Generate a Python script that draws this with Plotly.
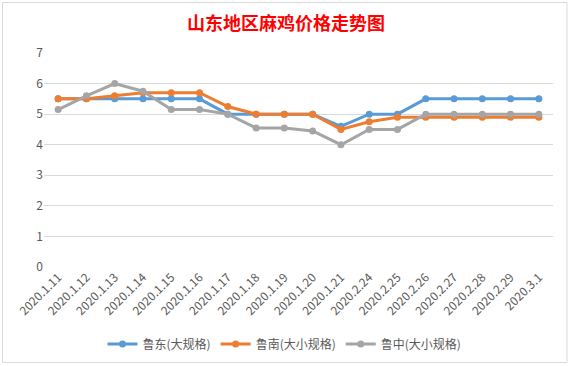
import plotly.graph_objects as go

categories = ["2020.1.11", "2020.1.12", "2020.1.13", "2020.1.14", "2020.1.15", "2020.1.16",
              "2020.1.17", "2020.1.18", "2020.1.19", "2020.1.20", "2020.1.21", "2020.2.24",
              "2020.2.25", "2020.2.26", "2020.2.27", "2020.2.28", "2020.2.29", "2020.3.1"]
ludong = [5.5, 5.5, 5.5, 5.5, 5.5, 5.5, 5.0, 5.0, 5.0, 5.0, 4.6, 5.0, 5.0, 5.5, 5.5, 5.5, 5.5, 5.5]
lunan = [5.5, 5.5, 5.6, 5.7, 5.7, 5.7, 5.25, 5.0, 5.0, 5.0, 4.5, 4.75, 4.9, 4.9, 4.9, 4.9, 4.9, 4.9]
luzhong = [5.15, 5.6, 6.0, 5.75, 5.15, 5.15, 5.0, 4.55, 4.55, 4.45, 4.0, 4.5, 4.5, 5.0, 5.0, 5.0, 5.0, 5.0]
series_names = ["鲁东(大规格)", "鲁南(大小规格)", "鲁中(大小规格)"]
colors = ["#5B9BD5", "#ED7D31", "#A5A5A5"]
title_text = "山东地区麻鸡价格走势图"

FONT = "Noto Sans CJK SC"

fig = go.Figure()
for name, vals, c in zip(series_names, [ludong, lunan, luzhong], colors):
    fig.add_trace(go.Scatter(
        x=categories, y=vals, name=name, mode="lines+markers",
        line=dict(color=c, width=3), marker=dict(color=c, size=7),
    ))

fig.update_layout(
    width=571, height=366, autosize=False,
    margin=dict(l=44, r=18, t=53, b=99, autoexpand=False),
    paper_bgcolor="white", plot_bgcolor="white",
    font=dict(family=FONT, color="#595959", size=12),
    title=dict(text="<b>" + title_text + "</b>", x=(286 / 571), xref="container", xanchor="center",
               y=1 - 24 / 366, yref="container", yanchor="middle",
               font=dict(family=FONT, size=18, color="#FF0000")),
    showlegend=True,
    legend=dict(orientation="h", x=(284.5 - 44) / 509, xanchor="center",
                y=(267 - 344) / 214, yanchor="middle", font=dict(size=12, color="#595959"),
                bgcolor="rgba(0,0,0,0)"),
    xaxis=dict(type="category", range=[-0.5, 17.5], tickangle=-45, showgrid=False,
               tickmode="array", tickvals=categories, ticktext=categories,
               showline=False, zeroline=False, ticks="", tickfont=dict(size=12),
               automargin=False),
    yaxis=dict(range=[0, 7], dtick=1, showgrid=True, gridcolor="#D9D9D9", gridwidth=1,
               zeroline=False, showline=False, ticks="", tickfont=dict(size=12),
               automargin=False),
    shapes=[dict(type="rect", xref="paper", yref="paper",
                 x0=(2.5 - 44) / 509, x1=(567 - 44) / 509,
                 y0=(267 - 362.5) / 214, y1=(267 - 2.5) / 214,
                 line=dict(color="#D9D9D9", width=1), fillcolor="rgba(0,0,0,0)", layer="below")],
)

fig.write_html("out.html", config={"displayModeBar": False},
               post_script="document.body.style.margin='0';document.body.style.overflow='hidden';")
